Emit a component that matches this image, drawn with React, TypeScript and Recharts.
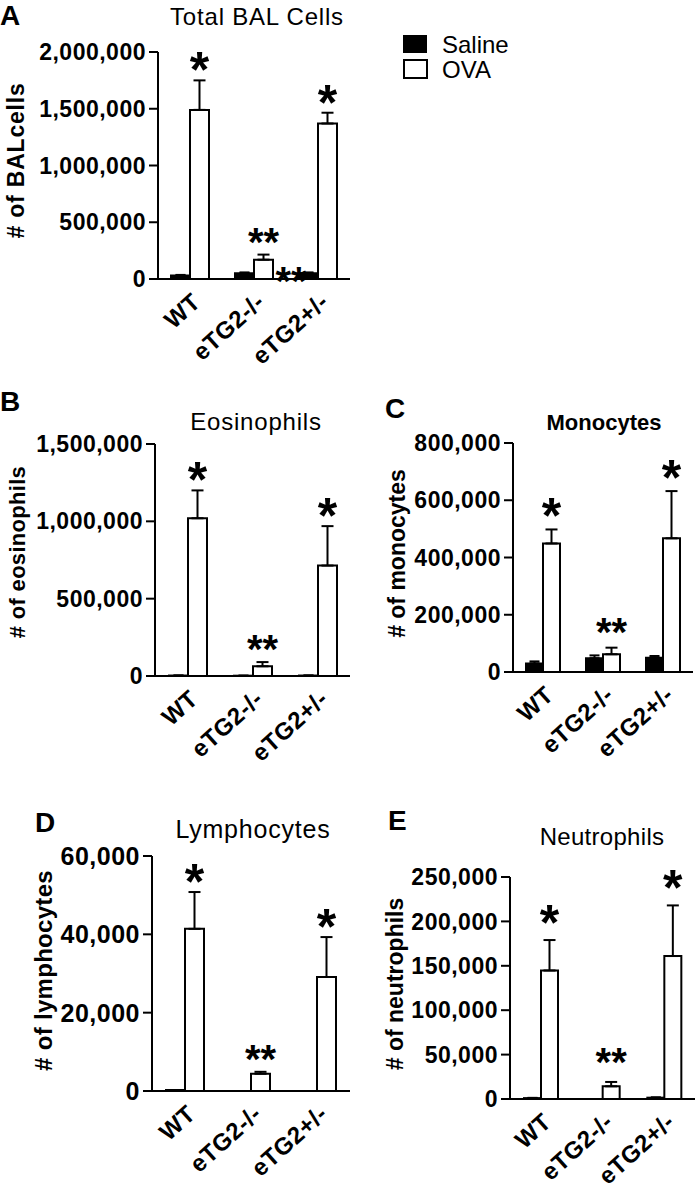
import React from "react";
import { BarChart, Bar, XAxis, YAxis, ErrorBar, LabelList, ReferenceDot } from "recharts";

const groups = ["WT", "eTG2-/-", "eTG2+/-"];

// A: total BAL cells
const totalSaline = [30000, 50000, 50000];
const totalSalineErr = [6000, 8000, 8000];
const totalOva = [1490000, 170000, 1370000];
const totalOvaErr = [260000, 45000, 95000];
const totalTicks = [0, 500000, 1000000, 1500000, 2000000];
const totalMarks = ["*", "**", "*"];
const totalStray = { group: "eTG2+/-", mark: "**" };

// B: eosinophils
const eosSaline = [3000, 2000, 3000];
const eosSalineErr = [0, 0, 0];
const eosOva = [1020000, 63000, 714000];
const eosOvaErr = [180000, 27000, 255000];
const eosTicks = [0, 500000, 1000000, 1500000];
const eosMarks = ["*", "**", "*"];

// C: monocytes
const monoSaline = [30000, 48000, 50000];
const monoSalineErr = [7000, 10000, 6000];
const monoOva = [449000, 62000, 467000];
const monoOvaErr = [49000, 23000, 165000];
const monoTicks = [0, 200000, 400000, 600000, 800000];
const monoMarks = ["*", "**", "*"];

// D: lymphocytes
const lymphSaline = [250, 0, 0];
const lymphSalineErr = [0, 0, 0];
const lymphOva = [41400, 4400, 29100];
const lymphOvaErr = [9400, 500, 10200];
const lymphTicks = [0, 20000, 40000, 60000];
const lymphMarks = ["*", "**", "*"];

// E: neutrophils
const neutSaline = [1000, 0, 1500];
const neutSalineErr = [300, 0, 300];
const neutOva = [144700, 14300, 161000];
const neutOvaErr = [34300, 4900, 57000];
const neutTicks = [0, 50000, 100000, 150000, 200000, 250000];
const neutMarks = ["*", "**", "*"];

const FONT = "'Liberation Sans', Arial, sans-serif";

function makeRows(sal: number[], salErr: number[], ova: number[], ovaErr: number[]) {
  return groups.map((g, i) => ({
    name: g,
    saline: sal[i],
    salineErr: [0, salErr[i]],
    ova: ova[i],
    ovaErr: [0, ovaErr[i]],
  }));
}

const fmt = (v: number) => v.toLocaleString("en-US");

function starLabel(errs: number[], marks: string[], gap: number) {
  return (props: any) => {
    const vb = props.viewBox || props;
    const { x, y, width, height } = vb;
    const idx = props.index;
    const v = Number(props.value);
    if (!v || idx == null) return null;
    const top = y - errs[idx] * (height / v);
    const m = marks[idx];
    const fs = m.length > 1 ? 40 : 50;
    const cy = top - gap;
    return (
      <text x={x + width / 2} y={cy + fs * 0.56} textAnchor="middle" fontSize={fs}
        fontWeight="bold" fill="#000" fontFamily={FONT} style={{ letterSpacing: 0 }}>
        {m}
      </text>
    );
  };
}

function XTick(props: any) {
  const { x, y, payload } = props;
  return (
    <text transform={`translate(${x + 12},${y + 25}) rotate(-42)`} textAnchor="end"
      fontSize={24} fontWeight="bold" fill="#000" fontFamily={FONT}>
      {payload.value}
    </text>
  );
}

type Panel = {
  key: string;
  left: number; top: number; width: number; height: number;
  plotTop: number; yAxisW: number; right: number; xAxisH: number;
  rows: any[]; ticks: number[]; errs: number[]; marks: string[];
  barSize: number; gap: number;
  tickFs: number; ylabel: string; ylabelX: number; ylabelDy: number; ylabelFs: number; ylabelLs: number;
  stray?: { group: string; mark: string };
};

const panels: Panel[] = [
  { key: "A", left: 0, top: 0, width: 352, height: 380, plotTop: 52, yAxisW: 158, right: 2, xAxisH: 101,
    rows: makeRows(totalSaline, totalSalineErr, totalOva, totalOvaErr), ticks: totalTicks, errs: totalOvaErr,
    marks: totalMarks, barSize: 19, gap: 21, tickFs: 23, ylabel: "# of BALcells", ylabelX: 16, ylabelDy: -5,
    ylabelFs: 23, ylabelLs: 0.8, stray: totalStray },
  { key: "B", left: 0, top: 430, width: 352, height: 360, plotTop: 14, yAxisW: 155, right: 2, xAxisH: 114,
    rows: makeRows(eosSaline, eosSalineErr, eosOva, eosOvaErr), ticks: eosTicks, errs: eosOvaErr,
    marks: eosMarks, barSize: 19, gap: 21, tickFs: 23, ylabel: "# of eosinophils", ylabelX: 17, ylabelDy: -8,
    ylabelFs: 22, ylabelLs: 0.3 },
  { key: "C", left: 352, top: 430, width: 345, height: 360, plotTop: 13, yAxisW: 161, right: 4, xAxisH: 118,
    rows: makeRows(monoSaline, monoSalineErr, monoOva, monoOvaErr), ticks: monoTicks, errs: monoOvaErr,
    marks: monoMarks, barSize: 17, gap: 24, tickFs: 23, ylabel: "# of monocytes", ylabelX: 45, ylabelDy: -4,
    ylabelFs: 23, ylabelLs: 0 },
  { key: "D", left: 0, top: 840, width: 352, height: 348, plotTop: 16, yAxisW: 152, right: 2, xAxisH: 97,
    rows: makeRows(lymphSaline, lymphSalineErr, lymphOva, lymphOvaErr), ticks: lymphTicks, errs: lymphOvaErr,
    marks: lymphMarks, barSize: 19, gap: 21, tickFs: 25, ylabel: "# of lymphocytes", ylabelX: 43, ylabelDy: -3,
    ylabelFs: 24, ylabelLs: 0.3 },
  { key: "E", left: 352, top: 850, width: 345, height: 338, plotTop: 27, yAxisW: 158, right: 2, xAxisH: 89,
    rows: makeRows(neutSaline, neutSalineErr, neutOva, neutOvaErr), ticks: neutTicks, errs: neutOvaErr,
    marks: neutMarks, barSize: 17, gap: 28, tickFs: 23, ylabel: "# of neutrophils", ylabelX: 43, ylabelDy: -4,
    ylabelFs: 23, ylabelLs: 0 },
];

function PanelChart({ p }: { p: Panel }) {
  const yMax = p.ticks[p.ticks.length - 1];
  return (
    <div style={{ position: "absolute", left: p.left, top: p.top, letterSpacing: "0.5px" }}>
      <BarChart width={p.width} height={p.height} data={p.rows} barGap={0} barSize={p.barSize}
        margin={{ top: p.plotTop, right: p.right, left: 0, bottom: 0 }}>
        <XAxis dataKey="name" interval={0} tickLine={false} tickSize={0} tickMargin={0}
          axisLine={{ stroke: "#000", strokeWidth: 2 }} height={p.xAxisH} tick={<XTick />} />
        <YAxis width={p.yAxisW} domain={[0, yMax]} ticks={p.ticks} tickFormatter={fmt} interval={0}
          axisLine={{ stroke: "#000", strokeWidth: 2 }} tickLine={{ stroke: "#000", strokeWidth: 2 }}
          tickSize={9} tickMargin={3}
          tick={{ fill: "#000", fontSize: p.tickFs, fontWeight: "bold", fontFamily: FONT }}
          label={{
            value: p.ylabel,
            content: (lp: any) => {
              const vb = lp.viewBox || { x: 0, y: 0, height: 0 };
              const cx = (vb.x || 0) + p.ylabelX;
              const cy = vb.y + vb.height / 2 + p.ylabelDy;
              return (
                <text x={cx} y={cy} transform={`rotate(-90, ${cx}, ${cy})`} textAnchor="middle"
                  dominantBaseline="central" fontSize={p.ylabelFs} fontWeight="bold" fill="#000"
                  fontFamily={FONT} style={{ letterSpacing: `${p.ylabelLs}px` }}>
                  {p.ylabel}
                </text>
              );
            },
          }} />
        <Bar dataKey="saline" fill="#000" stroke="#000" strokeWidth={2} isAnimationActive={false}>
          <ErrorBar dataKey="salineErr" width={5} stroke="#000" strokeWidth={2} direction="y" />
        </Bar>
        <Bar dataKey="ova" fill="#fff" stroke="#000" strokeWidth={2} isAnimationActive={false}>
          <ErrorBar dataKey="ovaErr" width={6} stroke="#000" strokeWidth={2} direction="y" />
          <LabelList dataKey="ova" content={starLabel(p.errs, p.marks, p.gap)} />
        </Bar>
        {p.stray && (
          <ReferenceDot x={p.stray.group} y={0} r={0} ifOverflow="visible"
            shape={(sp: any) => (
              <text x={sp.cx - 27} y={sp.cy + 16} textAnchor="middle" fontSize={40} fontWeight="bold"
                fill="#000" fontFamily={FONT} style={{ letterSpacing: 0 }}>
                {p.stray!.mark}
              </text>
            )} />
        )}
      </BarChart>
    </div>
  );
}

export default function App() {
  return (
    <div style={{ position: "relative", width: 700, height: 1188, background: "#fff", fontFamily: FONT, overflow: "hidden" }}>
      <style>{"body{margin:0}"}</style>
      {panels.map((p) => <PanelChart key={p.key} p={p} />)}
      <svg width={700} height={1188} style={{ position: "absolute", left: 0, top: 0, pointerEvents: "none" }}
        fontFamily={FONT}>
        {/* panel letters */}
        <text x={0} y={25} fontSize={28} fontWeight="bold">A</text>
        <text x={0} y={411} fontSize={28} fontWeight="bold">B</text>
        <text x={385} y={418} fontSize={28} fontWeight="bold">C</text>
        <text x={35} y={832} fontSize={28} fontWeight="bold">D</text>
        <text x={388} y={830} fontSize={28} fontWeight="bold">E</text>
        {/* titles */}
        <text x={257} y={25} fontSize={24} textAnchor="middle" style={{ letterSpacing: "0.8px" }}>Total BAL Cells</text>
        <text x={256} y={430} fontSize={24} textAnchor="middle" style={{ letterSpacing: "0.8px" }}>Eosinophils</text>
        <text x={604} y={430} fontSize={22} fontWeight="bold" textAnchor="middle">Monocytes</text>
        <text x={253} y={838} fontSize={25} textAnchor="middle" style={{ letterSpacing: "0.8px" }}>Lymphocytes</text>
        <text x={602} y={845} fontSize={24} textAnchor="middle" style={{ letterSpacing: "0.3px" }}>Neutrophils</text>
        {/* legend */}
        <rect x={403} y={35} width={24} height={18} fill="#000" />
        <rect x={404} y={60} width={23} height={18} fill="#fff" stroke="#000" strokeWidth={2} />
        <text x={442} y={53} fontSize={24}>Saline</text>
        <text x={442} y={78} fontSize={24}>OVA</text>
      </svg>
    </div>
  );
}
